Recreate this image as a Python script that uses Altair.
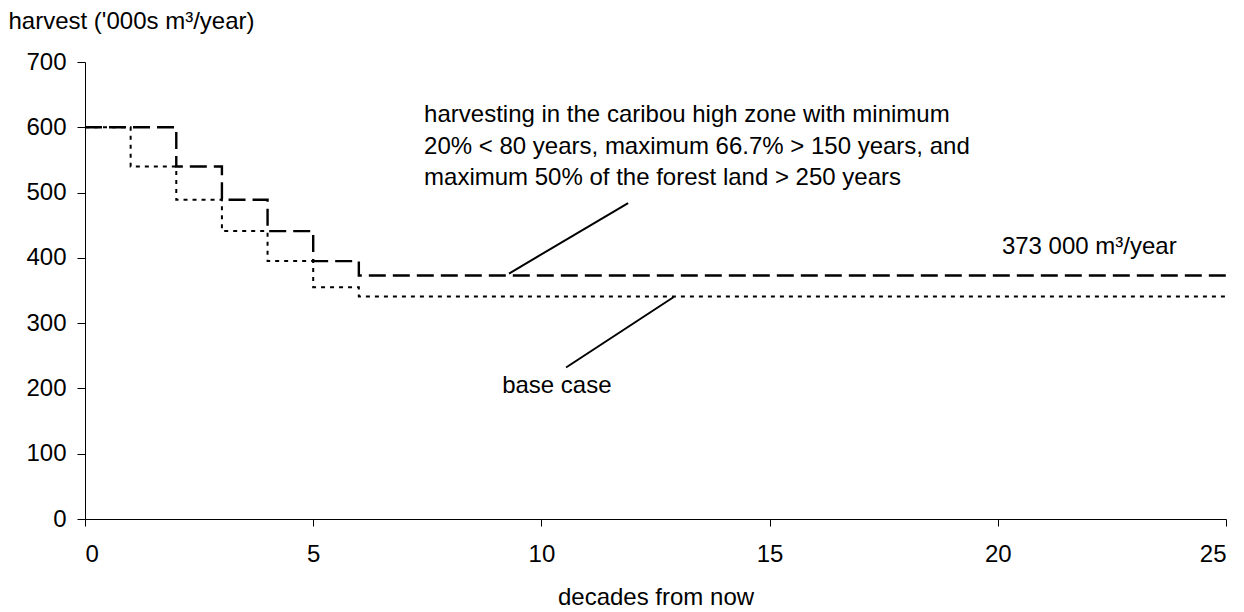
import altair as alt
import pandas as pd

FONT = "Liberation Sans"

# step series (value holds from each decade until the next)
caribou_x = [0, 2, 3, 4, 5, 6, 25]
caribou_y = [600, 540, 489, 441, 395, 373, 373]
base_x = [0, 1, 2, 3, 4, 5, 6, 25]
base_y = [600, 540, 489, 441, 395, 355, 341, 341]

# annotations (data coordinates)
note_lines = [
    "harvesting in the caribou high zone with minimum",
    "20% < 80 years, maximum 66.7% > 150 years, and",
    "maximum 50% of the forest land > 250 years",
]
note_x = [7.43, 7.43, 7.43]
note_y = [619, 570, 522]

label_texts = ["373 000 m³/year", "base case"]
label_x = [20.09, 9.14]
label_y = [417, 203]

leader_x = [11.90, 10.54]
leader_y = [484, 232]
leader_x2 = [9.29, 12.90]
leader_y2 = [376, 340]

x_scale = alt.Scale(domain=[0, 25], nice=False, zero=False)
y_scale = alt.Scale(domain=[0, 700], nice=False)

x_axis = alt.Axis(
    title="decades from now", values=[0, 5, 10, 15, 20, 25], grid=False,
    domainColor="black", tickColor="black", tickSize=7, labelPadding=16,
    labelFont=FONT, labelFontSize=24, labelColor="black",
    titleFont=FONT, titleFontSize=24, titleFontWeight="normal", titleColor="black",
    titleBaseline="middle", titleY=78,
)
y_axis = alt.Axis(
    title="harvest ('000s m³/year)", values=[0, 100, 200, 300, 400, 500, 600, 700],
    grid=False, domainColor="black", tickColor="black", tickSize=8, labelPadding=11,
    labelFont=FONT, labelFontSize=24, labelColor="black",
    titleFont=FONT, titleFontSize=24, titleFontWeight="normal", titleColor="black",
    titleAngle=0, titleAlign="left", titleBaseline="middle", titleX=-77, titleY=-41,
)

caribou = pd.DataFrame({"x": caribou_x, "y": caribou_y})
base = pd.DataFrame({"x": base_x, "y": base_y})

line_car = alt.Chart(caribou).mark_line(
    interpolate="step-after", color="black", strokeWidth=2.4, strokeDash=[17, 7]
).encode(x=alt.X("x:Q", scale=x_scale, axis=x_axis), y=alt.Y("y:Q", scale=y_scale, axis=y_axis))

line_base = alt.Chart(base).mark_line(
    interpolate="step-after", color="black", strokeWidth=2, strokeDash=[4, 5]
).encode(x=alt.X("x:Q", scale=x_scale), y=alt.Y("y:Q", scale=y_scale))

notes = alt.Chart(pd.DataFrame({"t": note_lines, "x": note_x, "y": note_y})).mark_text(
    align="left", baseline="middle", font=FONT, fontSize=24, color="black"
).encode(x=alt.X("x:Q", scale=x_scale), y=alt.Y("y:Q", scale=y_scale), text="t:N")

labels = alt.Chart(pd.DataFrame({"t": label_texts, "x": label_x, "y": label_y})).mark_text(
    align="left", baseline="middle", font=FONT, fontSize=24, color="black"
).encode(x=alt.X("x:Q", scale=x_scale), y=alt.Y("y:Q", scale=y_scale), text="t:N")

leaders = alt.Chart(pd.DataFrame({"x": leader_x, "y": leader_y, "x2": leader_x2, "y2": leader_y2})).mark_rule(
    color="black", strokeWidth=2
).encode(
    x=alt.X("x:Q", scale=x_scale), y=alt.Y("y:Q", scale=y_scale),
    x2="x2:Q", y2="y2:Q",
)

chart = alt.layer(line_car, line_base, leaders, notes, labels).properties(
    width=1141, height=457,
    autosize=alt.AutoSizeParams(type="none"),
    padding={"left": 77, "top": 54, "right": 10, "bottom": 93},
    background="white",
).configure_view(stroke=None)

chart.save("out.html", embed_options={"renderer": "svg", "actions": False})
